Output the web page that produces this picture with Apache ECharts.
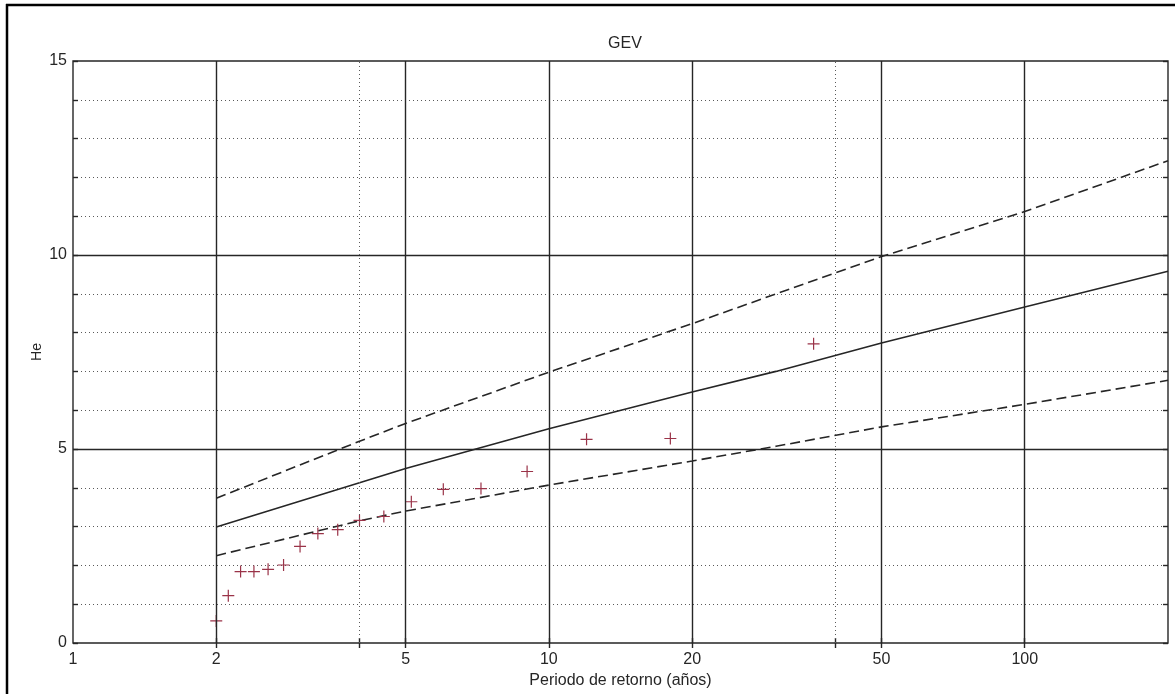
<!DOCTYPE html>
<html>
<head>
<meta charset="utf-8">
<script src="https://cdn.jsdelivr.net/npm/echarts@6/dist/echarts.min.js"></script>
<style>
html,body{margin:0;padding:0;background:#fff;}
#chart{width:1175px;height:694px;}
</style>
</head>
<body>
<div id="chart"></div>
<script>
// ---- data ----
const titleText = 'GEV';
const xAxisTitle = 'Periodo de retorno (años)';
const yAxisTitle = 'He';

// observed (plotting positions) : return period and He
const obsT  = [2, 2.12, 2.25, 2.4, 2.57, 2.77, 3, 3.27, 3.6, 4, 4.5, 5.14, 6, 7.2, 9, 12, 18, 36];
const obsHe = [0.57, 1.22, 1.84, 1.84, 1.90, 2.01, 2.49, 2.82, 2.92, 3.16, 3.26, 3.64, 3.96, 3.98, 4.42, 5.25, 5.27, 7.71];

// fitted GEV curve and confidence band
const fitT     = [2, 4, 5, 10, 20, 30, 50, 100, 200];
const fitHe    = [2.99, 4.13, 4.50, 5.52, 6.47, 7.00, 7.73, 8.66, 9.58];
const upperT   = [2, 4, 5, 10, 20, 50, 100, 200];
const upperHe  = [3.73, 5.20, 5.66, 6.98, 8.23, 9.96, 11.12, 12.43];
const lowerT   = [2, 4, 5, 10, 20, 30, 50, 100, 200];
const lowerHe  = [2.25, 3.15, 3.40, 4.07, 4.69, 5.07, 5.57, 6.15, 6.77];

// axes
const xTickLabels = [1, 2, 5, 10, 20, 50, 100];
const xSolidGrid  = [2, 5, 10, 20, 50, 100];
const xDottedGrid = [4, 40];
const xTicks      = [2, 4, 5, 10, 20, 40, 50, 100];
const ySolidGrid  = [5, 10];
const xMin = 1, xMax = 200, yMin = 0, yMax = 15;

// ---- build ----
const zip = (a, b) => a.map((v, i) => [v, b[i]]);
const FONT = '"Liberation Sans", Arial, sans-serif';
const DARK = '#262626';
const plusSymbol = 'path://M0,5.4 L12,5.4 L12,6.6 L0,6.6 Z M5.4,0 L6.6,0 L6.6,12 L5.4,12 Z';

const chart = echarts.init(document.getElementById('chart'), null, {renderer: 'canvas'});

const option = {
  animation: false,
  backgroundColor: '#fff',
  title: {
    text: titleText,
    left: 620, top: 31, textAlign: 'center',
    textStyle: {fontFamily: FONT, fontSize: 16, fontWeight: 'normal', color: DARK}
  },
  grid: {left: 73, top: 61, right: 7, bottom: 50, show: true, borderColor: DARK, borderWidth: 1.4, backgroundColor: 'transparent'},
  xAxis: [{
    type: 'log', logBase: 10, min: xMin, max: xMax, position: 'bottom',
    name: xAxisTitle, nameLocation: 'middle', nameGap: 30, nameMoveOverlap: false,
    nameTextStyle: {fontFamily: FONT, fontSize: 16, color: DARK},
    axisLine: {show: false},
    axisTick: {show: true, inside: true, length: 5, customValues: xTicks, lineStyle: {color: DARK, width: 1.4}},
    axisLabel: {show: true, customValues: xTickLabels, margin: 9, fontFamily: FONT, fontSize: 16, color: DARK,
      formatter: v => String(Math.round(v))},
    splitLine: {show: false},
    minorTick: {show: false}, minorSplitLine: {show: false}
  }, {
    type: 'log', logBase: 10, min: xMin, max: xMax, position: 'top',
    axisLine: {show: false},
    axisTick: {show: true, inside: true, length: 5, customValues: xTicks, lineStyle: {color: DARK, width: 1.4}},
    axisLabel: {show: false},
    splitLine: {show: false}
  }],
  yAxis: [{
    type: 'value', min: yMin, max: yMax, interval: 1, position: 'left',
    name: yAxisTitle, nameLocation: 'middle', nameGap: 29, nameRotate: 90, nameMoveOverlap: false,
    nameTextStyle: {fontFamily: FONT, fontSize: 14, color: DARK},
    axisLine: {show: false},
    axisTick: {show: true, inside: true, length: 5, lineStyle: {color: DARK, width: 1.4}},
    axisLabel: {show: true, margin: 6, fontFamily: FONT, fontSize: 16, color: DARK,
      formatter: v => (v % 5 === 0 ? String(v) : '')},
    splitLine: {show: true, lineStyle: {color: '#5a5a5a', width: 1, type: [1, 3]}}
  }, {
    type: 'value', min: yMin, max: yMax, interval: 1, position: 'right',
    axisLine: {show: false},
    axisTick: {show: true, inside: true, length: 5, lineStyle: {color: DARK, width: 1.4}},
    axisLabel: {show: false},
    splitLine: {show: false}
  }],
  series: [
    {
      name: 'grid', type: 'line', data: [], xAxisIndex: 0, yAxisIndex: 0, silent: true,
      markLine: {
        silent: true, symbol: 'none', label: {show: false}, animation: false,
        data: [
          ...xSolidGrid.map(v => ({xAxis: v, lineStyle: {color: DARK, width: 1.4, type: 'solid'}})),
          ...ySolidGrid.map(v => ({yAxis: v, lineStyle: {color: DARK, width: 1.4, type: 'solid'}})),
          ...xDottedGrid.map(v => ({xAxis: v, lineStyle: {color: '#5a5a5a', width: 1, type: [1, 3]}}))
        ]
      }
    },
    {
      name: 'upper', type: 'line', data: zip(upperT, upperHe), symbol: 'none', silent: true,
      lineStyle: {color: DARK, width: 1.6, type: [10, 5]}, z: 3
    },
    {
      name: 'fit', type: 'line', data: zip(fitT, fitHe), symbol: 'none', silent: true,
      lineStyle: {color: DARK, width: 1.6, type: 'solid'}, z: 3
    },
    {
      name: 'lower', type: 'line', data: zip(lowerT, lowerHe), symbol: 'none', silent: true,
      lineStyle: {color: DARK, width: 1.6, type: [10, 5]}, z: 3
    },
    {
      name: 'observed', type: 'scatter', data: zip(obsT, obsHe), symbol: plusSymbol, symbolSize: 12,
      itemStyle: {color: '#9a3348', opacity: 1}, z: 4, silent: true
    }
  ],
  graphic: [
    {type: 'line', shape: {x1: 6, y1: 5, x2: 1175, y2: 5}, style: {stroke: '#000', lineWidth: 2.5}, silent: true},
    {type: 'line', shape: {x1: 7, y1: 4, x2: 7, y2: 694}, style: {stroke: '#000', lineWidth: 2.5}, silent: true}
  ]
};
chart.setOption(option);
</script>
</body>
</html>
